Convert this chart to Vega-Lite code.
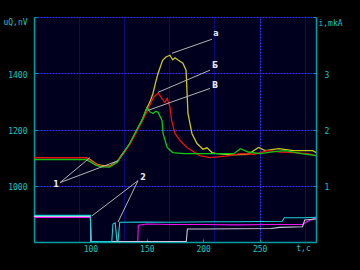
{
  "$schema": "https://vega.github.io/schema/vega-lite/v6.json",
  "width": 282,
  "height": 225,
  "autosize": {"type": "none"},
  "padding": {"left": 34, "top": 17, "right": 44, "bottom": 28},
  "background": "#000000",
  "config": {
    "view": {"fill": "#00001e", "stroke": null},
    "font": "DejaVu Sans Mono",
    "axis": {
      "labelFont": "DejaVu Sans Mono",
      "titleFont": "DejaVu Sans Mono",
      "labelFontSize": 8,
      "titleFontSize": 8,
      "labelColor": "#18c4c4",
      "titleColor": "#18c4c4",
      "titleFontWeight": "normal",
      "domainColor": "#00a0a0",
      "domainWidth": 1.5
    }
  },
  "datasets": {
    "left": [
      {"t": 50, "v": 1100, "s": "y"}, {"t": 96, "v": 1100, "s": "y"}, {"t": 100, "v": 1092, "s": "y"}, {"t": 105, "v": 1078, "s": "y"}, {"t": 110, "v": 1072, "s": "y"}, {"t": 117, "v": 1070, "s": "y"}, {"t": 124, "v": 1088, "s": "y"}, {"t": 126, "v": 1100, "s": "y"}, {"t": 130, "v": 1122, "s": "y"}, {"t": 135, "v": 1150, "s": "y"}, {"t": 141, "v": 1196, "s": "y"}, {"t": 146, "v": 1235, "s": "y"}, {"t": 150, "v": 1275, "s": "y"}, {"t": 153, "v": 1300, "s": "y"}, {"t": 155.5, "v": 1329, "s": "y"}, {"t": 158, "v": 1370, "s": "y"}, {"t": 160, "v": 1400, "s": "y"}, {"t": 164, "v": 1446, "s": "y"}, {"t": 167, "v": 1458, "s": "y"}, {"t": 170.5, "v": 1464, "s": "y"}, {"t": 173, "v": 1448, "s": "y"}, {"t": 175, "v": 1455, "s": "y"}, {"t": 178, "v": 1446, "s": "y"}, {"t": 182, "v": 1436, "s": "y"}, {"t": 184.8, "v": 1411, "s": "y"}, {"t": 185.6, "v": 1339, "s": "y"}, {"t": 186.5, "v": 1257, "s": "y"}, {"t": 190, "v": 1186, "s": "y"}, {"t": 194.5, "v": 1150, "s": "y"}, {"t": 199.8, "v": 1130, "s": "y"}, {"t": 203.4, "v": 1135, "s": "y"}, {"t": 207.8, "v": 1118, "s": "y"}, {"t": 212, "v": 1114, "s": "y"}, {"t": 225, "v": 1110, "s": "y"}, {"t": 240, "v": 1112, "s": "y"}, {"t": 249, "v": 1136, "s": "y"}, {"t": 255, "v": 1125, "s": "y"}, {"t": 267, "v": 1132, "s": "y"}, {"t": 280, "v": 1125, "s": "y"}, {"t": 297, "v": 1125, "s": "y"}, {"t": 300, "v": 1118, "s": "y"},
      {"t": 50, "v": 1100, "s": "r"}, {"t": 96, "v": 1100, "s": "r"}, {"t": 100, "v": 1090, "s": "r"}, {"t": 105, "v": 1076, "s": "r"}, {"t": 110, "v": 1070, "s": "r"}, {"t": 117, "v": 1068, "s": "r"}, {"t": 124, "v": 1086, "s": "r"}, {"t": 126, "v": 1098, "s": "r"}, {"t": 130, "v": 1118, "s": "r"}, {"t": 135, "v": 1148, "s": "r"}, {"t": 141, "v": 1192, "s": "r"}, {"t": 146, "v": 1230, "s": "r"}, {"t": 150, "v": 1262, "s": "r"}, {"t": 153, "v": 1290, "s": "r"}, {"t": 156, "v": 1315, "s": "r"}, {"t": 160, "v": 1329, "s": "r"}, {"t": 163.5, "v": 1311, "s": "r"}, {"t": 166, "v": 1296, "s": "r"}, {"t": 168, "v": 1311, "s": "r"}, {"t": 170.6, "v": 1279, "s": "r"}, {"t": 172, "v": 1232, "s": "r"}, {"t": 175, "v": 1186, "s": "r"}, {"t": 179.4, "v": 1161, "s": "r"}, {"t": 185.6, "v": 1136, "s": "r"}, {"t": 197, "v": 1107, "s": "r"}, {"t": 206, "v": 1100, "s": "r"}, {"t": 220, "v": 1105, "s": "r"}, {"t": 233, "v": 1114, "s": "r"}, {"t": 245, "v": 1112, "s": "r"}, {"t": 257, "v": 1125, "s": "r"}, {"t": 268, "v": 1120, "s": "r"}, {"t": 280, "v": 1118, "s": "r"}, {"t": 293, "v": 1114, "s": "r"}, {"t": 300, "v": 1107, "s": "r"},
      {"t": 50, "v": 1093, "s": "g"}, {"t": 96, "v": 1093, "s": "g"}, {"t": 100, "v": 1085, "s": "g"}, {"t": 105, "v": 1072, "s": "g"}, {"t": 110, "v": 1067, "s": "g"}, {"t": 117, "v": 1066, "s": "g"}, {"t": 124, "v": 1084, "s": "g"}, {"t": 126, "v": 1096, "s": "g"}, {"t": 130, "v": 1120, "s": "g"}, {"t": 135, "v": 1152, "s": "g"}, {"t": 141, "v": 1198, "s": "g"}, {"t": 146, "v": 1235, "s": "g"}, {"t": 150, "v": 1277, "s": "g"}, {"t": 153, "v": 1262, "s": "g"}, {"t": 155.5, "v": 1257, "s": "g"}, {"t": 158, "v": 1265, "s": "g"}, {"t": 160, "v": 1261, "s": "g"}, {"t": 163.5, "v": 1232, "s": "g"}, {"t": 164.4, "v": 1186, "s": "g"}, {"t": 168, "v": 1136, "s": "g"}, {"t": 173, "v": 1118, "s": "g"}, {"t": 183, "v": 1114, "s": "g"}, {"t": 200, "v": 1114, "s": "g"}, {"t": 227, "v": 1114, "s": "g"}, {"t": 233, "v": 1132, "s": "g"}, {"t": 240, "v": 1120, "s": "g"}, {"t": 250, "v": 1114, "s": "g"}, {"t": 265, "v": 1122, "s": "g"}, {"t": 273, "v": 1125, "s": "g"}, {"t": 287, "v": 1114, "s": "g"}, {"t": 300, "v": 1107, "s": "g"}
    ],
    "right": [
      {"t": 50, "i": 0.438, "s": "m"}, {"t": 100, "i": 0.438, "s": "m"}, {"t": 100.5, "i": 0.01, "s": "m"}, {"t": 142, "i": 0.01, "s": "m"}, {"t": 142.5, "i": 0.3, "s": "m"}, {"t": 150, "i": 0.32, "s": "m"}, {"t": 170, "i": 0.31, "s": "m"}, {"t": 200, "i": 0.31, "s": "m"}, {"t": 230, "i": 0.305, "s": "m"}, {"t": 260, "i": 0.31, "s": "m"}, {"t": 288, "i": 0.31, "s": "m"}, {"t": 292, "i": 0.36, "s": "m"}, {"t": 297, "i": 0.41, "s": "m"}, {"t": 300, "i": 0.43, "s": "m"},
      {"t": 50, "i": 0.455, "s": "w"}, {"t": 100, "i": 0.455, "s": "w"}, {"t": 100.5, "i": 0.01, "s": "w"}, {"t": 185, "i": 0.01, "s": "w"}, {"t": 186, "i": 0.23, "s": "w"}, {"t": 200, "i": 0.232, "s": "w"}, {"t": 230, "i": 0.235, "s": "w"}, {"t": 260, "i": 0.24, "s": "w"}, {"t": 268, "i": 0.26, "s": "w"}, {"t": 288, "i": 0.27, "s": "w"}, {"t": 290, "i": 0.39, "s": "w"}, {"t": 300, "i": 0.41, "s": "w"},
      {"t": 50, "i": 0.473, "s": "c"}, {"t": 100, "i": 0.473, "s": "c"}, {"t": 100.5, "i": 0.01, "s": "c"}, {"t": 119, "i": 0.01, "s": "c"}, {"t": 120, "i": 0.32, "s": "c"}, {"t": 122, "i": 0.34, "s": "c"}, {"t": 123.5, "i": 0.02, "s": "c"}, {"t": 124.5, "i": 0.02, "s": "c"}, {"t": 126, "i": 0.35, "s": "c"}, {"t": 150, "i": 0.355, "s": "c"}, {"t": 170, "i": 0.35, "s": "c"}, {"t": 190, "i": 0.355, "s": "c"}, {"t": 210, "i": 0.36, "s": "c"}, {"t": 230, "i": 0.36, "s": "c"}, {"t": 250, "i": 0.365, "s": "c"}, {"t": 270, "i": 0.37, "s": "c"}, {"t": 272, "i": 0.43, "s": "c"}, {"t": 290, "i": 0.43, "s": "c"}, {"t": 300, "i": 0.44, "s": "c"}
    ],
    "pointers": [
      {"t": 172.3, "v": 1471, "t2": 207.8, "v2": 1521},
      {"t": 159.9, "v": 1332, "t2": 206, "v2": 1411},
      {"t": 151, "v": 1268, "t2": 206, "v2": 1346},
      {"t": 73, "v": 1011, "t2": 99.6, "v2": 1100},
      {"t": 73, "v": 1011, "t2": 124.5, "v2": 1089},
      {"t": 142.2, "v": 1018, "t2": 101.4, "v2": 893},
      {"t": 142.2, "v": 1018, "t2": 124.5, "v2": 871}
    ],
    "labels": [
      {"t": 211.3, "v": 1539, "label": "а"},
      {"t": 210.5, "v": 1425, "label": "Б"},
      {"t": 210.5, "v": 1354, "label": "В"},
      {"t": 69.5, "v": 1004, "label": "1"},
      {"t": 146.6, "v": 1029, "label": "2"}
    ]
  },
  "layer": [
    {
      "layer": [
        {
          "data": {"name": "left"},
          "mark": {"type": "line", "strokeWidth": 1.3, "clip": true},
          "encoding": {
            "x": {
              "field": "t", "type": "quantitative",
              "scale": {"domain": [50, 300], "nice": false, "zero": false},
              "axis": {
                "orient": "top",
                "values": [50,55,60,65,70,75,80,85,90,95,100,105,110,115,120,125,130,135,140,145,150,155,160,165,170,175,180,185,190,195,200,205,210,215,220,225,230,235,240,245,250,255,260,265,270,275,280,285,290,295,300],
                "grid": true,
                "labels": false,
                "ticks": false,
                "domain": false,
                "title": null,
                "gridColor": {"condition": {"test": "datum.value % 50 === 0", "value": "#3434ff"}, "value": "#1414d0"},
                "gridDash": {"condition": {"test": "datum.value % 50 === 0", "value": [2, 1]}, "value": [1, 1]}
              }
            },
            "y": {
              "field": "v", "type": "quantitative",
              "scale": {"domain": [800, 1600], "nice": false, "zero": false},
              "axis": {
                "orient": "left",
                "values": [800,825,850,875,900,925,950,975,1000,1025,1050,1075,1100,1125,1150,1175,1200,1225,1250,1275,1300,1325,1350,1375,1400,1425,1450,1475,1500,1525,1550,1575,1600],
                "grid": true,
                "gridColor": {"condition": {"test": "datum.value % 100 === 0", "value": "#3434ff"}, "value": "#1414d0"},
                "gridDash": {"condition": {"test": "datum.value % 100 === 0", "value": [2, 1]}, "value": [1, 1]},
                "labelExpr": "(datum.value === 1000 || datum.value === 1200 || datum.value === 1400) ? datum.label : ''",
                "tickColor": {"condition": {"test": "datum.value % 100 === 0", "value": "#00a0a0"}, "value": "transparent"},
                "tickSize": -3,
                "labelPadding": 10,
                "labelOffset": 2,
                "labelFlush": false,
                "format": "d",
                "title": "uQ,nV",
                "titleAngle": 0,
                "titleX": -19,
                "titleY": 5,
                "titleAlign": "center",
                "titleBaseline": "middle"
              }
            },
            "color": {
              "field": "s", "type": "nominal", "legend": null,
              "scale": {"domain": ["y", "r", "g", "m", "w", "c"], "range": ["#c8c81a", "#e81010", "#10c810", "#f010f0", "#c8c8d8", "#20d0d8"]}
            }
          }
        },
        {
          "data": {"name": "pointers"},
          "mark": {"type": "rule", "color": "#b4b4b4", "strokeWidth": 1},
          "encoding": {
            "x": {"field": "t", "type": "quantitative"},
            "y": {"field": "v", "type": "quantitative"},
            "x2": {"field": "t2"},
            "y2": {"field": "v2"}
          }
        },
        {
          "data": {"name": "labels"},
          "mark": {"type": "text", "color": "#e8e8e8", "font": "DejaVu Sans", "fontSize": 8, "fontWeight": "bold", "align": "center", "baseline": "middle"},
          "encoding": {
            "x": {"field": "t", "type": "quantitative"},
            "y": {"field": "v", "type": "quantitative"},
            "text": {"field": "label"}
          }
        }
      ]
    },
    {
      "data": {"name": "right"},
      "mark": {"type": "line", "strokeWidth": 1.1, "clip": true},
      "encoding": {
        "x": {
          "field": "t", "type": "quantitative",
          "scale": {"domain": [50, 300], "nice": false, "zero": false},
          "axis": {
            "orient": "bottom",
            "values": [100, 150, 200, 250],
            "grid": false,
            "format": "d",
            "tickColor": "#00a0a0",
            "tickSize": -3,
            "labelPadding": 6,
            "labelFlush": false,
            "title": "t,c",
            "titleX": 269,
            "titleY": 2,
            "titleBaseline": "top",
            "titleAlign": "center",
            "titleAnchor": null
          }
        },
        "y": {
          "field": "i", "type": "quantitative",
          "scale": {"domain": [0, 4], "nice": false, "zero": false},
          "axis": {
            "orient": "right",
            "values": [0, 0.5, 1, 1.5, 2, 2.5, 3, 3.5, 4],
            "grid": false,
            "format": "d",
            "labelExpr": "(datum.value === 1 || datum.value === 2 || datum.value === 3) ? datum.label : ''",
            "tickColor": "#00a0a0",
            "tickSize": -3,
            "labelPadding": 11,
            "labelOffset": 2,
            "labelFlush": false,
            "title": "i,mkA",
            "titleAngle": 0,
            "titleX": 14,
            "titleY": 6,
            "titleAlign": "center",
            "titleBaseline": "middle"
          }
        },
        "color": {
          "field": "s", "type": "nominal", "legend": null,
          "scale": {"domain": ["y", "r", "g", "m", "w", "c"], "range": ["#c8c81a", "#e81010", "#10c810", "#f010f0", "#c8c8d8", "#20d0d8"]}
        }
      }
    }
  ],
  "resolve": {"scale": {"y": "independent"}, "axis": {"x": "independent"}}
}
